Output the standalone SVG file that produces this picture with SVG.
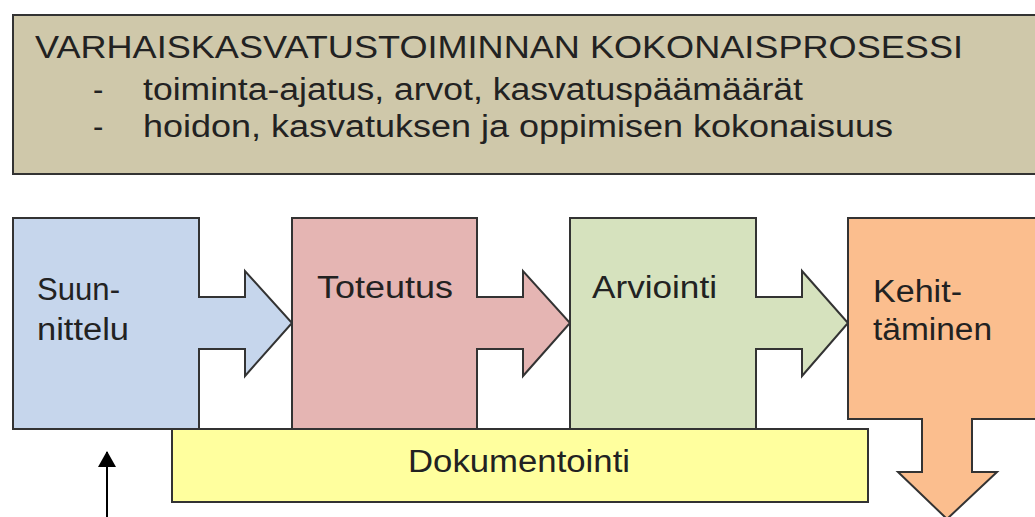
<svg xmlns="http://www.w3.org/2000/svg" width="1035" height="517" viewBox="0 0 1035 517">
  <style>
    .shape { stroke: #333; stroke-width: 2; stroke-linejoin: miter; }
    .t { font-family: "Liberation Sans", Arial, sans-serif; font-size: 31px; fill: #222; }
  </style>
  <defs>
    <marker id="ah" markerWidth="16" markerHeight="18" refX="15" refY="9" orient="auto" markerUnits="userSpaceOnUse">
      <path d="M0,0 L16,9 L0,18 Z" fill="#000"/>
    </marker>
  </defs>
  <rect width="1035" height="517" fill="#fff"/>

  <g id="header">
    <rect class="shape" x="13" y="15" width="1040" height="159" fill="#CFC8AA"/>
    <text class="t" x="35" y="58" textLength="928" lengthAdjust="spacingAndGlyphs">VARHAISKASVATUSTOIMINNAN  KOKONAISPROSESSI</text>
    <text class="t" x="93" y="100">-</text>
    <text class="t" x="143" y="100" textLength="660" lengthAdjust="spacingAndGlyphs">toiminta-ajatus,  arvot, kasvatuspäämäärät</text>
    <text class="t" x="93" y="137">-</text>
    <text class="t" x="143" y="137" textLength="750" lengthAdjust="spacingAndGlyphs">hoidon, kasvatuksen  ja oppimisen kokonaisuus</text>
  </g>

  <g id="suunnittelu">
    <path class="shape" fill="#C6D6EC" d="M13,218 H199 V297 H245 V271 L292,323 L245,376 V349 H199 V429 H13 Z"/>
    <text class="t" x="37" y="300" textLength="83" lengthAdjust="spacingAndGlyphs">Suun-</text>
    <text class="t" x="37" y="340" textLength="92" lengthAdjust="spacingAndGlyphs">nittelu</text>
  </g>

  <g id="toteutus">
    <path class="shape" fill="#E5B5B3" d="M292,218 H477 V297 H523 V271 L570,323 L523,376 V349 H477 V429 H292 Z"/>
    <text class="t" x="317" y="298" textLength="136" lengthAdjust="spacingAndGlyphs">Toteutus</text>
  </g>

  <g id="arviointi">
    <path class="shape" fill="#D6E2BE" d="M570,218 H756 V297 H802 V271 L848,323 L802,376 V349 H756 V429 H570 Z"/>
    <text class="t" x="592" y="298" textLength="125" lengthAdjust="spacingAndGlyphs">Arviointi</text>
  </g>

  <g id="kehittaminen">
    <path class="shape" fill="#FBBE8E" d="M848,218 H1045 V419 H972 V472 H997 L947,519 L898,472 H922 V419 H848 Z"/>
    <text class="t" x="873" y="302" textLength="89" lengthAdjust="spacingAndGlyphs">Kehit-</text>
    <text class="t" x="873" y="340" textLength="119" lengthAdjust="spacingAndGlyphs">täminen</text>
  </g>

  <g id="dokumentointi">
    <rect class="shape" x="172" y="429" width="696" height="73" fill="#FFFF9E"/>
    <text class="t" x="408" y="472" textLength="222" lengthAdjust="spacingAndGlyphs">Dokumentointi</text>
  </g>

  <g id="connectors">
    <line x1="107" y1="520" x2="107" y2="452" stroke="#000" stroke-width="2" marker-end="url(#ah)"/>
  </g>
</svg>
